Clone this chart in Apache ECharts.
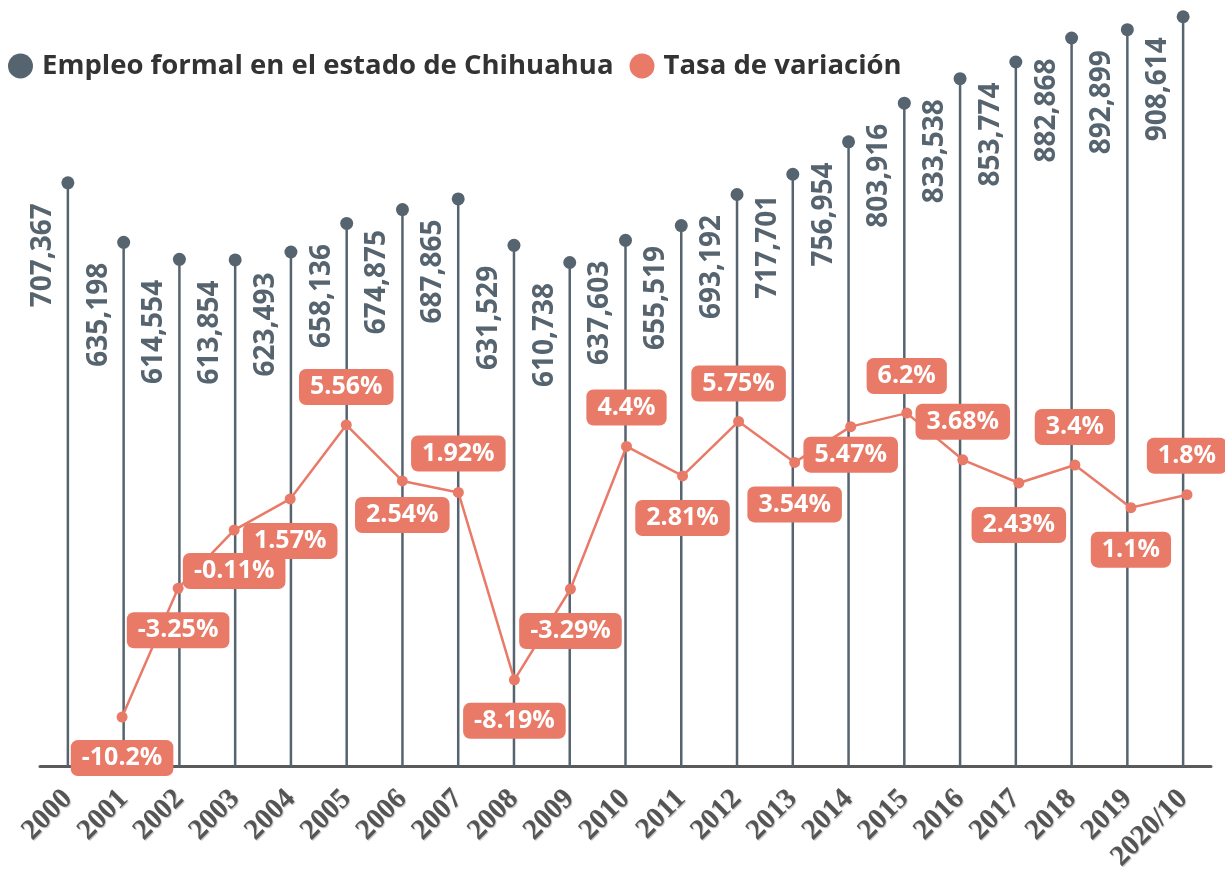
<!DOCTYPE html>
<html>
<head>
<meta charset="utf-8">
<title>Empleo formal Chihuahua</title>
<script src="https://cdn.jsdelivr.net/npm/echarts@6/dist/echarts.min.js"></script>
<style>
  html, body { margin: 0; padding: 0; background: #fff; }
  #chart { width: 1225px; height: 874px; }
</style>
</head>
<body>
<div id="chart"></div>
<script>
// datos
var years = ['2000', '2001', '2002', '2003', '2004', '2005', '2006', '2007', '2008', '2009', '2010',
             '2011', '2012', '2013', '2014', '2015', '2016', '2017', '2018', '2019', '2020/10'];
var empleo = [707367, 635198, 614554, 613854, 623493, 658136, 674875, 687865, 631529, 610738, 637603,
              655519, 693192, 717701, 756954, 803916, 833538, 853774, 882868, 892899, 908614];
var variacion = ['-', -10.2, -3.25, -0.11, 1.57, 5.56, 2.54, 1.92, -8.19, -3.29, 4.4,
                 2.81, 5.75, 3.54, 5.47, 6.2, 3.68, 2.43, 3.4, 1.1, 1.8];

var SLATE = '#56646f';
var SALMON = '#e97a68';
var FONT = 'Open Sans';

// desplazamiento vertical de cada etiqueta de la tasa (arriba / abajo del punto)
var labelDy = [0, 41, 42, 41, 42, -38, 34, -39, 41, 42, -39, 42, -38, 42, 28, -37, -38, 42, -38, 42, -39];

var chart = echarts.init(document.getElementById('chart'));

var lineData = variacion.map(function (v, i) {
    if (v === '-') return v;
    return { value: v, label: { offset: [0, labelDy[i]] } };
});

var option = {
    backgroundColor: '#fff',
    animation: false,
    legend: {
        left: 8,
        top: 52,
        padding: 0,
        icon: 'circle',
        itemWidth: 25,
        itemHeight: 25,
        itemGap: 16,
        data: ['Empleo formal en el estado de Chihuahua', 'Tasa de variación'],
        textStyle: {
            fontFamily: FONT,
            fontWeight: 'bold',
            fontSize: 27.5,
            color: '#333',
            padding: [0, 0, 0, 4]
        }
    },
    grid: [
        { left: 40, right: 14, top: 9, bottom: 105 },
        { left: 38, right: 10, top: 9, bottom: 105 }
    ],
    xAxis: [{
        type: 'category',
        gridIndex: 0,
        data: years,
        offset: 8,
        axisLine: { lineStyle: { color: '#5a5a5a', width: 3 } },
        axisTick: { alignWithLabel: true, length: 3, lineStyle: { color: '#666', width: 1 } },
        axisLabel: {
            rotate: 45,
            margin: 20,
            interval: 0,
            fontFamily: 'Liberation Serif',
            fontWeight: 'bold',
            fontSize: 29,
            color: '#555',
            textShadowColor: 'rgba(0,0,0,0.25)',
            textShadowBlur: 1,
            textShadowOffsetX: 1,
            textShadowOffsetY: 1
        }
    }, {
        type: 'category',
        gridIndex: 1,
        data: years,
        show: false
    }],
    yAxis: [{
        type: 'value',
        gridIndex: 0,
        min: 0,
        max: 918000,
        show: false
    }, {
        type: 'value',
        gridIndex: 1,
        min: -13,
        max: 28,
        show: false
    }],
    series: [{
        name: 'tallos',
        type: 'bar',
        xAxisIndex: 0,
        yAxisIndex: 0,
        barWidth: 2.5,
        itemStyle: { color: SLATE },
        data: empleo,
        z: 1
    }, {
        name: 'Empleo formal en el estado de Chihuahua',
        type: 'scatter',
        xAxisIndex: 0,
        yAxisIndex: 0,
        symbol: 'circle',
        symbolSize: 13,
        itemStyle: { color: SLATE, opacity: 1 },
        data: empleo,
        z: 2,
        label: {
            show: true,
            position: [-18.5, 27],
            rotate: 90,
            align: 'right',
            verticalAlign: 'middle',
            fontFamily: FONT,
            fontWeight: 'bold',
            fontSize: 28,
            color: SLATE,
            formatter: function (p) {
                return p.value.toLocaleString('en-US');
            }
        }
    }, {
        name: 'Tasa de variación',
        type: 'line',
        xAxisIndex: 1,
        yAxisIndex: 1,
        symbol: 'circle',
        symbolSize: 11,
        itemStyle: { color: SALMON },
        lineStyle: { color: SALMON, width: 2.5 },
        data: lineData,
        z: 5,
        label: {
            show: true,
            position: 'inside',
            fontFamily: FONT,
            fontWeight: 'bold',
            fontSize: 25,
            lineHeight: 28,
            color: '#fff',
            backgroundColor: SALMON,
            borderRadius: 7,
            padding: [4, 11],
            formatter: function (p) {
                return p.value + '%';
            }
        }
    }]
};

chart.setOption(option);
</script>
</body>
</html>
